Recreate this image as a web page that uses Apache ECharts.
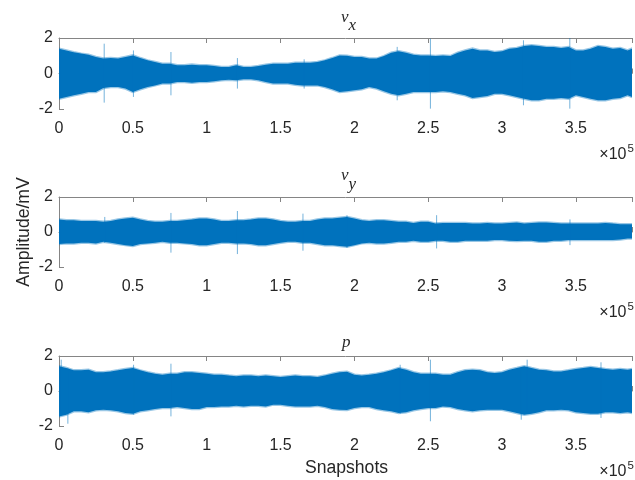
<!DOCTYPE html>
<html>
<head>
<meta charset="utf-8">
<script src="https://cdn.jsdelivr.net/npm/echarts@6/dist/echarts.min.js"></script>
<style>
  html, body { margin: 0; padding: 0; background: #fff; }
  #root { width: 635px; height: 480px; }
</style>
</head>
<body>
<div id="root"></div>
<script>
// sample positions (snapshot index), read every 0.05e5
const snapshots = [
  0, 5000, 10000, 15000, 20000, 25000, 30000, 35000, 40000, 45000,
  50000, 55000, 60000, 65000, 70000, 75000, 80000, 85000, 90000, 95000,
  100000, 105000, 110000, 115000, 120000, 125000, 130000, 135000, 140000, 145000,
  150000, 155000, 160000, 165000, 170000, 175000, 180000, 185000, 190000, 195000,
  200000, 205000, 210000, 215000, 220000, 225000, 230000, 235000, 240000, 245000,
  250000, 255000, 260000, 265000, 270000, 275000, 280000, 285000, 290000, 295000,
  300000, 305000, 310000, 315000, 320000, 325000, 330000, 335000, 340000, 345000,
  350000, 355000, 360000, 365000, 370000, 375000, 380000, 385000, 388000
];

// v_x envelope (upper / lower edge of the dense trace)
const vxTop = [
  1.40, 1.30, 1.20, 1.12, 1.06, 0.93, 0.84, 0.87, 0.84, 0.93,
  1.02, 0.87, 0.74, 0.65, 0.55, 0.55, 0.46, 0.46, 0.50, 0.46,
  0.46, 0.42, 0.37, 0.37, 0.46, 0.37, 0.37, 0.42, 0.50, 0.55,
  0.55, 0.55, 0.61, 0.61, 0.61, 0.65, 0.74, 0.87, 1.02, 1.00,
  0.93, 0.93, 0.84, 0.84, 0.98, 1.17, 1.25, 1.17, 1.06, 1.02,
  1.02, 0.98, 1.02, 0.98, 1.17, 1.30, 1.40, 1.30, 1.30, 1.21,
  1.25, 1.40, 1.44, 1.55, 1.59, 1.55, 1.49, 1.49, 1.44, 1.49,
  1.30, 1.30, 1.40, 1.55, 1.49, 1.40, 1.44, 1.30, 1.40
];
const vxBot = [
  -1.42, -1.32, -1.23, -1.14, -1.04, -1.04, -0.82, -0.76, -0.76, -0.85,
  -1.04, -0.89, -0.76, -0.67, -0.57, -0.57, -0.48, -0.48, -0.52, -0.48,
  -0.48, -0.44, -0.38, -0.35, -0.38, -0.33, -0.33, -0.38, -0.48, -0.57,
  -0.57, -0.57, -0.63, -0.67, -0.67, -0.67, -0.76, -0.89, -1.04, -1.00,
  -0.95, -0.89, -0.76, -0.85, -1.00, -1.14, -1.23, -1.14, -1.04, -1.04,
  -1.04, -1.04, -1.00, -1.04, -1.14, -1.23, -1.38, -1.32, -1.27, -1.14,
  -1.14, -1.23, -1.32, -1.42, -1.51, -1.51, -1.42, -1.42, -1.38, -1.42,
  -1.23, -1.32, -1.42, -1.51, -1.51, -1.42, -1.38, -1.23, -1.32
];
// isolated spikes: [snapshot, top, bottom]
const vxSpikes = [
  [30600, 1.68, -1.64], [50400, 1.30, -1.32], [75800, 1.21, -1.23],
  [120800, 0.87, -0.85], [166000, 0.80, -0.85], [229000, 1.50, -1.51],
  [251500, 1.96, -1.98], [314500, 1.87, -1.79], [345900, 2.00, -1.98]
];

// v_y envelope
const vyTop = [
  0.71, 0.67, 0.67, 0.63, 0.63, 0.63, 0.58, 0.63, 0.71, 0.77,
  0.82, 0.71, 0.63, 0.58, 0.58, 0.63, 0.63, 0.67, 0.71, 0.77,
  0.77, 0.71, 0.63, 0.63, 0.67, 0.67, 0.71, 0.77, 0.77, 0.71,
  0.63, 0.58, 0.58, 0.63, 0.63, 0.71, 0.77, 0.77, 0.82, 0.86,
  0.77, 0.67, 0.63, 0.67, 0.67, 0.63, 0.58, 0.58, 0.52, 0.58,
  0.58, 0.48, 0.52, 0.52, 0.52, 0.52, 0.48, 0.48, 0.52, 0.48,
  0.48, 0.52, 0.54, 0.48, 0.52, 0.54, 0.54, 0.52, 0.48, 0.48,
  0.48, 0.48, 0.48, 0.48, 0.52, 0.48, 0.45, 0.45, 0.45
];
const vyBot = [
  -0.69, -0.65, -0.65, -0.62, -0.62, -0.65, -0.56, -0.62, -0.69, -0.75,
  -0.80, -0.69, -0.65, -0.62, -0.56, -0.62, -0.62, -0.65, -0.69, -0.75,
  -0.75, -0.69, -0.62, -0.62, -0.65, -0.65, -0.69, -0.75, -0.75, -0.69,
  -0.62, -0.56, -0.56, -0.62, -0.62, -0.69, -0.75, -0.75, -0.80, -0.84,
  -0.75, -0.65, -0.62, -0.65, -0.65, -0.62, -0.56, -0.56, -0.50, -0.56,
  -0.56, -0.50, -0.50, -0.56, -0.56, -0.50, -0.50, -0.50, -0.50, -0.46,
  -0.46, -0.50, -0.52, -0.50, -0.50, -0.56, -0.56, -0.50, -0.50, -0.46,
  -0.46, -0.46, -0.46, -0.46, -0.46, -0.46, -0.43, -0.37, -0.37
];
const vySpikes = [
  [31000, 0.86, -0.62], [75800, 1.09, -1.18], [120800, 1.20, -1.26],
  [165200, 1.05, -1.07], [195000, 0.95, -0.90], [255700, 0.96, -0.94],
  [346000, 0.72, -0.75]
];

// p envelope
const pTop = [
  1.41, 1.31, 1.18, 1.18, 1.22, 1.07, 1.07, 1.12, 1.18, 1.26,
  1.31, 1.18, 1.07, 0.99, 0.93, 0.99, 0.99, 1.07, 1.07, 1.03,
  0.99, 0.93, 0.93, 0.88, 0.84, 0.88, 0.88, 0.84, 0.88, 0.84,
  0.80, 0.84, 0.88, 0.84, 0.84, 0.80, 0.88, 0.99, 1.07, 1.10,
  0.93, 0.88, 0.93, 0.99, 1.07, 1.18, 1.31, 1.22, 1.07, 0.99,
  0.99, 0.99, 0.93, 0.93, 1.07, 1.18, 1.22, 1.18, 1.07, 1.03,
  1.07, 1.22, 1.31, 1.41, 1.31, 1.22, 1.18, 1.12, 1.12, 1.18,
  1.26, 1.31, 1.37, 1.31, 1.26, 1.22, 1.26, 1.22, 1.26
];
const pBot = [
  -1.45, -1.35, -1.16, -1.16, -1.22, -1.10, -1.07, -1.10, -1.16, -1.26,
  -1.30, -1.16, -1.10, -1.03, -0.97, -0.97, -0.91, -0.97, -1.03, -1.03,
  -0.91, -0.91, -0.88, -0.88, -0.84, -0.88, -0.84, -0.84, -0.88, -0.78,
  -0.78, -0.84, -0.88, -0.88, -0.88, -0.84, -0.91, -1.03, -1.07, -1.08,
  -0.97, -0.91, -0.91, -1.03, -1.10, -1.16, -1.26, -1.22, -1.10, -1.03,
  -0.97, -0.97, -0.88, -0.91, -1.03, -1.10, -1.16, -1.10, -1.07, -1.07,
  -1.07, -1.16, -1.26, -1.35, -1.30, -1.22, -1.10, -1.10, -1.07, -1.10,
  -1.22, -1.26, -1.30, -1.30, -1.22, -1.22, -1.26, -1.22, -1.26
];
const pSpikes = [
  [1500, 1.79, -1.20], [6000, 1.30, -1.87], [50500, 1.50, -1.35],
  [75800, 1.56, -1.45], [231000, 1.50, -1.30], [251500, 1.79, -1.73],
  [313000, 1.20, -1.64], [317000, 1.79, -1.20], [367000, 1.64, -1.54]
];

const titles = ['v', 'v', 'p'];
const subscripts = ['x', 'y', ''];
const xTicks = [0, 50000, 100000, 150000, 200000, 250000, 300000, 350000];
const yTicks = [-2, 0, 2];

const blue = '#0072BD';
const axisGray = '#858585';
const textColor = '#262626';
const sans = '"Liberation Sans", Arial, Helvetica, sans-serif';
const serif = '"Liberation Serif", "Times New Roman", serif';

const panels = [
  { top: vxTop, bot: vxBot, spikes: vxSpikes, gridTop: 38, gridH: 71 },
  { top: vyTop, bot: vyBot, spikes: vySpikes, gridTop: 197, gridH: 70 },
  { top: pTop, bot: pBot, spikes: pSpikes, gridTop: 356, gridH: 70 }
];

const grid = [], xAxis = [], yAxis = [], series = [];

panels.forEach(function (pn, i) {
  grid.push({ left: 59, right: 1, top: pn.gridTop, height: pn.gridH });
  const common = {
    type: 'value', gridIndex: i, min: 0, max: 388000, interval: 50000,
    axisLine: { show: true, lineStyle: { color: axisGray, width: 1 } },
    axisTick: { show: true, inside: true, length: 5, lineStyle: { color: axisGray } },
    splitLine: { show: false }
  };
  xAxis.push(Object.assign({}, common, {
    position: 'bottom',
    axisLabel: {
      color: textColor, fontFamily: sans, fontSize: 16, margin: 12,
      formatter: function (v) { return xTicks.indexOf(v) >= 0 ? String(v / 1e5) : ''; }
    }
  }));
  xAxis.push(Object.assign({}, common, { position: 'top', axisLabel: { show: false } }));
  yAxis.push({
    type: 'value', gridIndex: i, min: yTicks[0], max: yTicks[2], interval: 2,
    axisLine: { show: true, lineStyle: { color: axisGray, width: 1 } },
    axisTick: { show: true, inside: true, length: 5, lineStyle: { color: axisGray } },
    axisLabel: { color: textColor, fontFamily: sans, fontSize: 16, margin: 6 },
    splitLine: { show: false }
  });

  // dense trace body
  series.push({
    type: 'custom', xAxisIndex: 2 * i, yAxisIndex: i, silent: true, clip: true,
    data: [[0, 0]],
    renderItem: function (params, api) {
      const pts = [];
      for (let k = 0; k < snapshots.length; k++) pts.push(api.coord([snapshots[k], pn.top[k]]));
      for (let k = snapshots.length - 1; k >= 0; k--) pts.push(api.coord([snapshots[k], pn.bot[k]]));
      return {
        type: 'polygon', shape: { points: pts },
        style: { fill: blue, stroke: 'rgba(0,114,189,0.4)', lineWidth: 2.5 }
      };
    }
  });
  // isolated spikes
  series.push({
    type: 'custom', xAxisIndex: 2 * i, yAxisIndex: i, silent: true, clip: true,
    data: pn.spikes,
    encode: { x: 0, y: [1, 2] },
    renderItem: function (params, api) {
      const a = api.coord([api.value(0), api.value(1)]);
      const b = api.coord([api.value(0), api.value(2)]);
      return {
        type: 'line', shape: { x1: a[0], y1: a[1], x2: b[0], y2: b[1] },
        style: { stroke: 'rgba(0,114,189,0.55)', lineWidth: 1 }
      };
    }
  });
});

// titles, axis names and the x10^5 exponent labels (text boxes anchored at top)
const graphic = [];
const titleTop = [9, 167.5, 334];
panels.forEach(function (pn, i) {
  const hasSub = subscripts[i] !== '';
  graphic.push({
    type: 'text', x: hasSub ? 341 : 342, y: titleTop[i],
    style: { text: titles[i], font: 'italic 17px ' + serif, fill: textColor, verticalAlign: 'top' }
  });
  if (hasSub) {
    graphic.push({
      type: 'text', x: 348.5, y: titleTop[i] + 8.5,
      style: { text: subscripts[i], font: 'italic 17px ' + serif, fill: textColor, verticalAlign: 'top' }
    });
  }
  const axisBottom = pn.gridTop + pn.gridH;
  graphic.push({
    type: 'text', x: 626.5, y: axisBottom + 38,
    style: { text: '\u00d710', font: '16px ' + sans, fill: textColor, align: 'right', verticalAlign: 'top' }
  });
  graphic.push({
    type: 'text', x: 634, y: axisBottom + 33.5,
    style: { text: '5', font: '11.5px ' + sans, fill: textColor, align: 'right', verticalAlign: 'top' }
  });
});
graphic.push({
  type: 'text', x: 24, y: 232, rotation: Math.PI / 2,
  style: { text: 'Amplitude/mV', font: '17.6px ' + sans, fill: textColor, align: 'center', verticalAlign: 'middle' }
});
graphic.push({
  type: 'text', x: 346.5, y: 468,
  style: { text: 'Snapshots', font: '17.6px ' + sans, fill: textColor, align: 'center', verticalAlign: 'middle' }
});

const chart = echarts.init(document.getElementById('root'));
chart.setOption({
  animation: false,
  backgroundColor: '#ffffff',
  grid: grid,
  xAxis: xAxis,
  yAxis: yAxis,
  series: series,
  graphic: graphic
});
</script>
</body>
</html>
